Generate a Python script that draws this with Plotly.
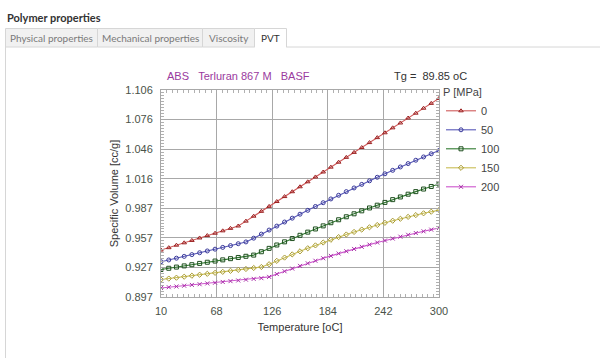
import plotly.graph_objects as go

# ---------------- data ----------------
temperature = [10, 18.1, 26.1, 34.2, 42.2, 50.3, 58.3, 66.4, 74.4, 82.5, 90.6, 98.6,
               106.7, 114.7, 122.8, 130.8, 138.9, 146.9, 155.0, 163.1, 171.1, 179.2,
               187.2, 195.3, 203.3, 211.4, 219.4, 227.5, 235.6, 243.6, 251.7, 259.7,
               267.8, 275.8, 283.9, 291.9, 300]

v_p0 = [0.9444, 0.9468, 0.9493, 0.9517, 0.9541, 0.9566, 0.9590, 0.9614, 0.9638, 0.9663,
        0.9687, 0.9736, 0.9786, 0.9835, 0.9885, 0.9934, 0.9984, 1.0033, 1.0083, 1.0133,
        1.0182, 1.0232, 1.0281, 1.0331, 1.0380, 1.0430, 1.0479, 1.0529, 1.0579, 1.0628,
        1.0678, 1.0727, 1.0777, 1.0826, 1.0876, 1.0925, 1.0975]
v_p50 = [0.9326, 0.9344, 0.9362, 0.9380, 0.9398, 0.9417, 0.9435, 0.9453, 0.9471, 0.9489,
         0.9508, 0.9526, 0.9564, 0.9605, 0.9646, 0.9686, 0.9727, 0.9766, 0.9806, 0.9845,
         0.9884, 0.9922, 0.9960, 0.9997, 1.0034, 1.0071, 1.0107, 1.0143, 1.0179, 1.0214,
         1.0249, 1.0283, 1.0317, 1.0351, 1.0384, 1.0416, 1.0449]
v_p100 = [0.9248, 0.9260, 0.9272, 0.9284, 0.9296, 0.9309, 0.9321, 0.9333, 0.9345, 0.9357,
          0.9369, 0.9381, 0.9393, 0.9427, 0.9461, 0.9495, 0.9527, 0.9560, 0.9593, 0.9625,
          0.9657, 0.9688, 0.9720, 0.9750, 0.9780, 0.9810, 0.9840, 0.9869, 0.9897, 0.9925,
          0.9953, 0.9980, 1.0008, 1.0034, 1.0060, 1.0086, 1.0111]
v_p150 = [0.9146, 0.9156, 0.9165, 0.9175, 0.9185, 0.9195, 0.9204, 0.9214, 0.9224, 0.9234,
          0.9244, 0.9253, 0.9263, 0.9273, 0.9301, 0.9335, 0.9368, 0.9400, 0.9431, 0.9462,
          0.9491, 0.9520, 0.9548, 0.9575, 0.9601, 0.9627, 0.9651, 0.9674, 0.9697, 0.9719,
          0.9740, 0.9760, 0.9779, 0.9797, 0.9815, 0.9831, 0.9847]
v_p200 = [0.9061, 0.9069, 0.9076, 0.9084, 0.9092, 0.9099, 0.9107, 0.9114, 0.9122, 0.9130,
          0.9137, 0.9145, 0.9153, 0.9160, 0.9173, 0.9202, 0.9230, 0.9257, 0.9284, 0.9310,
          0.9336, 0.9361, 0.9385, 0.9409, 0.9432, 0.9455, 0.9477, 0.9499, 0.9520, 0.9540,
          0.9560, 0.9579, 0.9598, 0.9616, 0.9633, 0.9650, 0.9667]

pressure_labels = ["0", "50", "100", "150", "200"]

x_tickvals = [10, 68, 126, 184, 242, 300]
x_ticktext = ["10", "68", "126", "184", "242", "300"]
y_tickvals = [0.897, 0.92686, 0.95671, 0.98657, 1.01643, 1.04629, 1.07614, 1.106]
y_ticktext = ["0.897", "0.927", "0.957", "0.987", "1.016", "1.046", "1.076", "1.106"]

tab_labels = ["Physical properties", "Mechanical properties", "Viscosity", "PVT"]

# ---------------- styling ----------------
W, H = 600, 358
L, R, T, B = 161, 161, 90, 61
PW, PH = W - L - R, H - T - B


def px(x):
    return (x - L) / PW


def py(y):
    return (H - B - y) / PH


series = [v_p0, v_p50, v_p100, v_p150, v_p200]
line_colors = ["#cf5a5a", "#5858b8", "#2f7a2f", "#c8bd55", "#cc55cc"]
marker_colors = ["#9a2020", "#3a3a9a", "#1f4f1f", "#a89a30", "#a830a8"]
symbols = ["triangle-up-open", "circle-open", "square-open", "diamond-open", "x-thin"]

fig = go.Figure()
for vals, name, lc, mc, sym in zip(series, pressure_labels, line_colors, marker_colors, symbols):
    fig.add_trace(go.Scatter(
        x=temperature, y=vals, name=name, mode="lines+markers",
        line=dict(color=lc, width=1.1),
        marker=dict(symbol=sym, size=4, color=mc, line=dict(color=mc, width=1)),
    ))

font_chart = "Liberation Sans, Arial, sans-serif"
font_ui = "Lato, Noto Sans, sans-serif"
tick_color = "#4a5248"
grid_color = "#a8a8a8"

fig.update_layout(
    width=W, height=H,
    margin=dict(l=L, r=R, t=T, b=B),
    paper_bgcolor="white", plot_bgcolor="white",
    font=dict(family=font_chart, size=11, color="#333"),
    showlegend=True,
    legend=dict(
        title=dict(text="P [MPa]", font=dict(size=11, color="#444", family=font_chart)),
        x=px(441), y=py(82), xanchor="left", yanchor="top",
        font=dict(size=11, color="#444", family=font_chart),
        bgcolor="rgba(0,0,0,0)", itemwidth=30, tracegroupgap=0,
    ),
    xaxis=dict(
        range=[10, 300], tickvals=x_tickvals, ticktext=x_ticktext,
        showgrid=True, gridcolor=grid_color, gridwidth=1.3,
        showline=True, linecolor=grid_color, linewidth=1, mirror="ticks",
        ticks="inside", ticklen=4, tickcolor=grid_color,
        minor=dict(ticks="inside", ticklen=3, dtick=5.8, tick0=10,
                   tickcolor="#b0b0b0", showgrid=False),
        tickfont=dict(size=11, color=tick_color, family=font_chart),
        ticklabelstandoff=4,
        title=dict(text="Temperature [oC]", font=dict(size=11, color="#333"), standoff=7),
        zeroline=False,
    ),
    yaxis=dict(
        range=[0.897, 1.106], tickvals=y_tickvals, ticktext=y_ticktext,
        showgrid=True, gridcolor=grid_color, gridwidth=1.3,
        showline=True, linecolor=grid_color, linewidth=1, mirror="ticks",
        ticks="inside", ticklen=4, tickcolor=grid_color,
        minor=dict(ticks="inside", ticklen=3, dtick=(1.106 - 0.897) / 70, tick0=0.897,
                   tickcolor="#b0b0b0", showgrid=False),
        tickfont=dict(size=11, color=tick_color, family=font_chart),
        ticklabelstandoff=5,
        title=dict(text="Specific Volume [cc/g]", font=dict(size=11, color="#333"), standoff=4),
        zeroline=False,
    ),
)

annotations = [
    dict(text="ABS&nbsp;&nbsp;&nbsp;Terluran 867 M&nbsp;&nbsp;&nbsp;BASF", x=px(165), y=py(76),
         xref="paper", yref="paper",
         xanchor="left", yanchor="middle", showarrow=False,
         font=dict(size=11, color="#9a3a9e", family=font_chart)),
    dict(text="Tg =&nbsp;&nbsp;89.85 oC", x=px(469), y=py(76),
         xref="paper", yref="paper",
         xanchor="right", yanchor="middle", showarrow=False,
         font=dict(size=11, color="#333", family=font_chart)),
    dict(text="<b>Polymer properties</b>", x=px(5), y=py(17),
         xref="paper", yref="paper",
         xanchor="left", yanchor="middle", showarrow=False,
         font=dict(size=11, color="#333", family=font_ui)),
]

shapes = []
tab_edges = [5.5, 97.5, 202.5, 254.5, 286.5]
for i, lab in enumerate(tab_labels):
    x0, x1 = tab_edges[i], tab_edges[i + 1]
    selected = (lab == "PVT")
    shapes.append(dict(type="rect", xref="paper", yref="paper",
                       x0=px(x0), x1=px(x1), y0=py(47), y1=py(28.5),
                       fillcolor="white" if selected else "#f1f1f1",
                       line=dict(color="#d6d6d6", width=1), layer="below"))
    annotations.append(dict(text=lab, x=px((x0 + x1) / 2), y=py(38),
                            xref="paper", yref="paper",
                            xanchor="center", yanchor="middle", showarrow=False,
                            font=dict(size=10, family=font_ui,
                                      color="#333" if selected else "#7a7a7a")))
# cover bottom edge of selected tab
shapes.append(dict(type="line", xref="paper", yref="paper",
                   x0=px(255), x1=px(286), y0=py(47), y1=py(47),
                   line=dict(color="white", width=2)))
# panel border lines
shapes.append(dict(type="line", xref="paper", yref="paper",
                   x0=px(286.5), x1=px(600), y0=py(47), y1=py(47),
                   line=dict(color="#d6d6d6", width=1)))
shapes.append(dict(type="line", xref="paper", yref="paper",
                   x0=px(5.5), x1=px(5.5), y0=py(47), y1=py(358),
                   line=dict(color="#d6d6d6", width=1)))

fig.update_layout(annotations=annotations, shapes=shapes)

fig.write_html("out.html", config={"displayModeBar": False},
               post_script="document.body.style.margin='0';document.body.style.padding='0';")
